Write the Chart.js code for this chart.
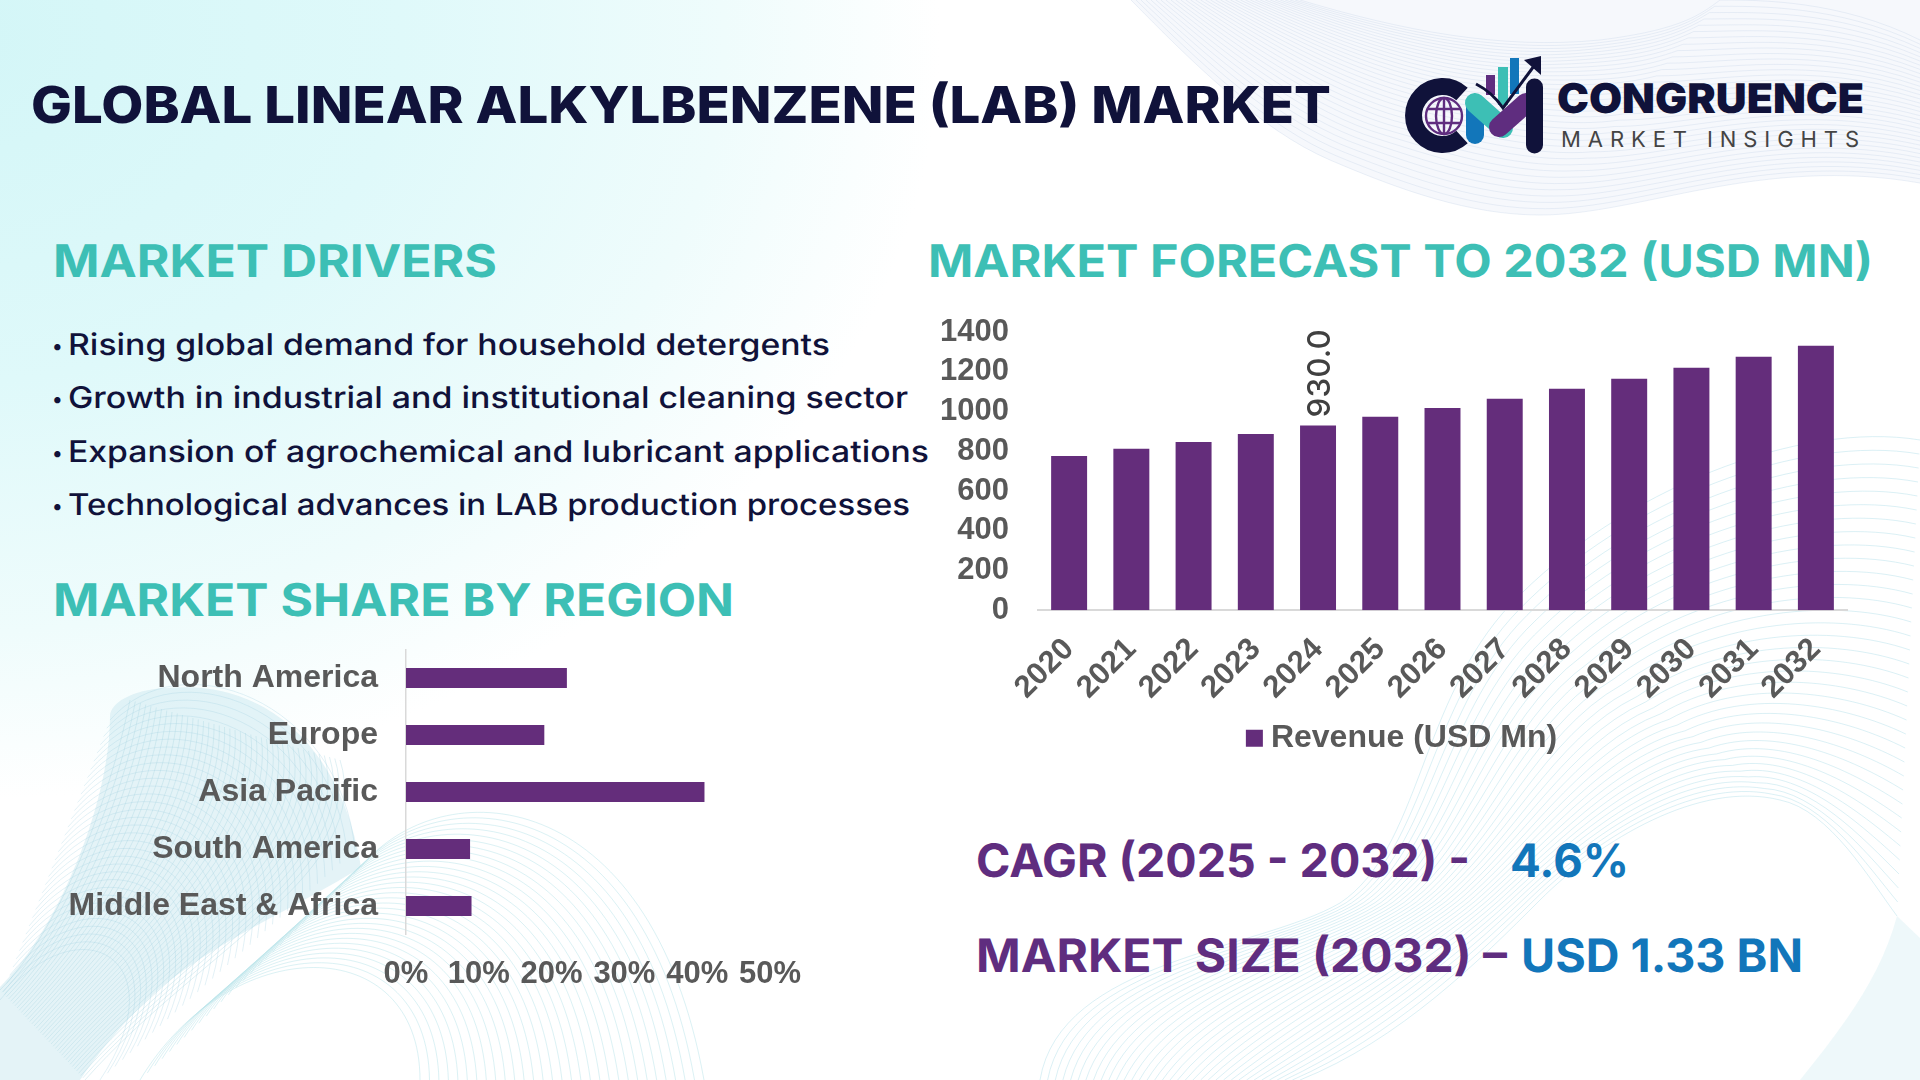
<!DOCTYPE html>
<html>
<head>
<meta charset="utf-8">
<title>Global Linear Alkylbenzene (LAB) Market</title>
<script src="https://cdn.jsdelivr.net/npm/chart.js@4/dist/chart.umd.js"></script>
<style>
html,body{margin:0;padding:0;background:#fff;}
#page{position:relative;width:1920px;height:1080px;overflow:hidden;background:
  radial-gradient(ellipse 980px 760px at -40px 40px,#d3f6f7 0%,#dff9fa 45%,#effcfc 78%,rgba(255,255,255,0) 100%),#fff;}
#page svg{position:absolute;left:0;top:0;}
#forecast{position:absolute;left:930px;top:310px;}
#share{position:absolute;left:40px;top:640px;}
text{font-family:Inter,sans-serif;text-rendering:geometricPrecision;}
</style>
</head>
<body>
<div id="page">
<svg id="waves" width="1920" height="1080" fill="none">
  <path d="M1131 0C1190 60 1260 130 1330 160C1400 190 1470 215 1540 215C1640 215 1760 155 1920 183V0Z" fill="#eef3fa" fill-opacity=".55"/>
  <path d="M110 717C110 700 140 688 170 688C260 680 340 740 361 867C310 900 240 930 184 970C140 1000 100 1050 80 1080H0V987C60 927 110 800 110 717Z" fill="#c9e7ef" fill-opacity=".5"/>
  <path d="M1897 916L1920 938V1080H1800C1840 1030 1880 980 1897 916Z" fill="#cdebf2" fill-opacity=".35"/>
</svg>
<svg id="texts" width="1920" height="1080">
  <text x="31" y="123" font-size="51" font-weight="800" fill="#10123a" textLength="1300" lengthAdjust="spacingAndGlyphs">GLOBAL LINEAR ALKYLBENZENE (LAB) MARKET</text>

  <text x="53" y="277" font-size="45" font-weight="700" fill="#3dbfb5" textLength="444" lengthAdjust="spacingAndGlyphs">MARKET DRIVERS</text>
  <text x="928" y="277" font-size="45" font-weight="700" fill="#3dbfb5" textLength="945" lengthAdjust="spacingAndGlyphs">MARKET FORECAST TO 2032 (USD MN)</text>
  <text x="53" y="616" font-size="45" font-weight="700" fill="#3dbfb5" textLength="681" lengthAdjust="spacingAndGlyphs">MARKET SHARE BY REGION</text>

  <g font-size="30" font-weight="500" fill="#10123a">
    <text x="52" y="353" font-size="20">•</text>
    <text x="68" y="355" textLength="762" lengthAdjust="spacingAndGlyphs">Rising global demand for household detergents</text>
    <text x="52" y="406" font-size="20">•</text>
    <text x="68" y="408" textLength="840" lengthAdjust="spacingAndGlyphs">Growth in industrial and institutional cleaning sector</text>
    <text x="52" y="460" font-size="20">•</text>
    <text x="68" y="462" textLength="861" lengthAdjust="spacingAndGlyphs">Expansion of agrochemical and lubricant applications</text>
    <text x="52" y="513" font-size="20">•</text>
    <text x="68" y="515" textLength="842" lengthAdjust="spacingAndGlyphs">Technological advances in LAB production processes</text>
  </g>

  <g font-size="46" font-weight="700">
    <text x="976" y="877" fill="#5f2d7f" textLength="494" lengthAdjust="spacingAndGlyphs">CAGR (2025 - 2032) -</text>
    <text x="1510" y="877" fill="#1276ba" textLength="119" lengthAdjust="spacingAndGlyphs">4.6%</text>
    <text x="976" y="972" fill="#5f2d7f" textLength="531" lengthAdjust="spacingAndGlyphs">MARKET SIZE (2032) –</text>
    <text x="1521" y="972" fill="#1276ba" textLength="282" lengthAdjust="spacingAndGlyphs">USD 1.33 BN</text>
  </g>

  <!-- logo -->
  <path d="M1462 94A29 29 0 1 0 1462 137" fill="none" stroke="#10123a" stroke-width="17"/>
  <g fill="none" stroke="#5f2d7f" stroke-width="2.4">
    <circle cx="1444" cy="116" r="18"/>
    <ellipse cx="1444" cy="116" rx="8" ry="18"/>
    <path d="M1427 109H1461M1427 123H1461M1444 98V134"/>
  </g>
  <rect x="1486" y="75" width="9" height="20" fill="#5f2d7f"/>
  <rect x="1498" y="67" width="10" height="38" fill="#3dbfb5"/>
  <rect x="1510" y="58" width="9" height="36" fill="#1276ba"/>
  <path d="M1475 103V135" stroke="#1276ba" stroke-width="18" stroke-linecap="round"/>
  <path d="M1475 103L1503 128" stroke="#3dbfb5" stroke-width="20" stroke-linecap="round"/>
  <path d="M1499 127L1526 103" stroke="#5f2d7f" stroke-width="20" stroke-linecap="round"/>
  <path d="M1534.5 87V145" stroke="#10123a" stroke-width="17" stroke-linecap="round"/>
  <path d="M1476 84Q1492 92 1503 108L1534 66" fill="none" stroke="#10123a" stroke-width="3"/>
  <path d="M1541 56L1541 75L1524 60Z" fill="#10123a"/>
  <text x="1557" y="113" font-size="41" font-weight="900" fill="#10123a" textLength="307" lengthAdjust="spacingAndGlyphs">CONGRUENCE</text>
  <text x="1561" y="147" font-size="22" font-weight="400" fill="#444" textLength="298">MARKET INSIGHTS</text>
</svg>
<canvas id="forecast" width="942" height="460"></canvas>
<canvas id="share" width="790" height="360"></canvas>
</div>

<script>
//forecast chart data
var years = ["2020", "2021", "2022", "2023", "2024", "2025", "2026", "2027", "2028", "2029", "2030", "2031", "2032"];
var revenue = [776, 812, 847, 887, 930, 973, 1018, 1064, 1114, 1165, 1220, 1276, 1331];
var revenueLabels = [null, null, null, null, "930.0", null, null, null, null, null, null, null, null];
var revenueTicks = [0, 200, 400, 600, 800, 1000, 1200, 1400];

//region share data
var regions = ["North America", "Europe", "Asia Pacific", "South America", "Middle East & Africa"];
var shares = [22.1, 19, 41, 8.8, 9];
var shareTicks = [0, 10, 20, 30, 40, 50];

var purple = "#642d7b";
var grey = "#595959";
var axisFont = { family: "'Liberation Sans', Arial, sans-serif", weight: "bold", size: 31 };

Chart.defaults.animation = false;

//background line families, only decoration
function lineFamily(a, b, n, color, opacity) {
    var svg = document.getElementById("waves");
    var html = "";
    for (var i = 0; i <= n; i++) {
        var t = i / n;
        var p = a.map(function (v, k) { return (v + (b[k] - v) * t).toFixed(1); });
        html += '<path d="M' + p.slice(0, 2).join(" ") + "C" + p.slice(2).join(" ") +
            '" stroke="' + color + '" stroke-opacity="' + opacity + '"/>';
    }
    svg.insertAdjacentHTML("beforeend", html);
}
//top right band
lineFamily([1131, 0, 1190, 60, 1260, 130, 1330, 160, 1400, 190, 1470, 215, 1540, 215, 1640, 215, 1760, 155, 1920, 183],
    [1300, 0, 1400, 30, 1500, 50, 1600, 40, 1680, 30, 1700, 15, 1720, 0, 1760, 0, 1840, 0, 1920, 40], 34, "#cddaeb", 0.4);
//bottom left ribbon, along and across
lineFamily([130, 700, 110, 800, 60, 930, 0, 990], [340, 760, 375, 870, 200, 950, 85, 1080], 40, "#a3d2e0", 0.34);
lineFamily([110, 720, 180, 640, 340, 700, 355, 850], [0, 1000, 80, 900, 180, 960, 100, 1080], 34, "#a3d2e0", 0.3);
//bottom left dome
lineFamily([361, 867, 440, 770, 650, 780, 704, 1080], [140, 1080, 230, 930, 420, 930, 420, 1080], 30, "#b7e3ea", 0.5);
//bottom right sweep
lineFamily([1040, 1080, 1060, 960, 1260, 950, 1340, 903, 1420, 850, 1420, 700, 1511, 604, 1620, 490, 1800, 420, 1920, 440],
    [1300, 1080, 1400, 1040, 1480, 960, 1540, 900, 1600, 840, 1700, 780, 1780, 800, 1830, 810, 1870, 880, 1897, 916], 34, "#a9dbe6", 0.42);

//draws the single data label standing on its bar
var barLabelPlugin = {
    id: "barLabel",
    afterDatasetsDraw: function (chart) {
        var ctx = chart.ctx;
        chart.getDatasetMeta(0).data.forEach(function (bar, i) {
            if (!revenueLabels[i]) return;
            ctx.save();
            ctx.translate(bar.x + 2, bar.y - 8);
            ctx.rotate(-Math.PI / 2);
            ctx.font = "500 31.5px Inter, sans-serif";
            ctx.fillStyle = "#404040";
            ctx.textAlign = "left";
            ctx.textBaseline = "middle";
            ctx.fillText(revenueLabels[i], 0, 0);
            ctx.restore();
        });
    }
};

//legend sits off the plot centre
var legendShift = {
    id: "legendShift",
    afterLayout: function (chart) {
        chart.legend.left += 17;
        chart.legend.right += 17;
    }
};

//no extra room for labels that stick out, plot edges stay where they are set
function noScalePadding(scale) {
    scale.paddingLeft = scale.paddingRight = scale.paddingTop = scale.paddingBottom = 0;
}

//create forecast chart
new Chart(document.getElementById("forecast"), {
    type: "bar",
    data: {
        labels: years,
        datasets: [{
            label: "Revenue (USD Mn)",
            data: revenue,
            backgroundColor: purple,
            categoryPercentage: 1,
            barPercentage: 0.578
        }]
    },
    options: {
        responsive: false,
        layout: { padding: { top: 22, right: 25, bottom: 5.8 } },
        plugins: {
            tooltip: { enabled: false },
            legend: {
                display: true,
                position: "bottom",
                labels: {
                    boxWidth: 1,
                    boxHeight: 1,
                    padding: 10,
                    color: grey,
                    font: Object.assign({}, axisFont, { size: 32 }),
                    //a one pixel box with a thick edge keeps the text close to the square
                    generateLabels: function (chart) {
                        return [{
                            text: chart.data.datasets[0].label,
                            fillStyle: purple,
                            strokeStyle: purple,
                            fontColor: grey,
                            lineWidth: 16,
                            datasetIndex: 0
                        }];
                    }
                }
            }
        },
        scales: {
            x: {
                grid: { display: false },
                border: { color: "#d9d9d9", width: 2 },
                ticks: { color: grey, font: axisFont, minRotation: 45, maxRotation: 45, autoSkip: false, padding: 13 },
                afterFit: function (scale) { scale.height = 102; noScalePadding(scale); }
            },
            y: {
                min: 0,
                max: 1400,
                grid: { display: false, drawTicks: false },
                border: { display: false },
                ticks: { color: grey, font: axisFont, padding: 29, autoSkip: false, callback: function (v) { return String(v); } },
                afterBuildTicks: function (scale) {
                    scale.ticks = revenueTicks.map(function (v) { return { value: v }; });
                },
                afterFit: function (scale) { scale.width = 108; noScalePadding(scale); }
            }
        }
    },
    plugins: [barLabelPlugin, legendShift]
});

//create region share chart
new Chart(document.getElementById("share"), {
    type: "bar",
    data: {
        labels: regions,
        datasets: [{
            data: shares,
            backgroundColor: purple,
            categoryPercentage: 1,
            barPercentage: 0.35
        }]
    },
    options: {
        responsive: false,
        indexAxis: "y",
        layout: { padding: { top: 9.5, right: 60 } },
        plugins: {
            tooltip: { enabled: false },
            legend: { display: false }
        },
        scales: {
            x: {
                min: 0,
                max: 50,
                grid: { display: false, drawTicks: false },
                border: { display: false },
                ticks: {
                    color: grey,
                    font: axisFont,
                    padding: 21,
                    maxRotation: 0,
                    autoSkip: false,
                    callback: function (v) { return v + "%"; }
                },
                afterBuildTicks: function (scale) {
                    scale.ticks = shareTicks.map(function (v) { return { value: v }; });
                },
                afterFit: function (scale) { scale.height = 65.5; noScalePadding(scale); }
            },
            y: {
                grid: { display: false, drawTicks: false },
                border: { color: "#d9d9d9", width: 1.5 },
                ticks: { color: grey, font: Object.assign({}, axisFont, { size: 32 }), padding: 28, autoSkip: false },
                afterFit: function (scale) { scale.width = 366; noScalePadding(scale); }
            }
        }
    }
});
</script>
</body>
</html>
